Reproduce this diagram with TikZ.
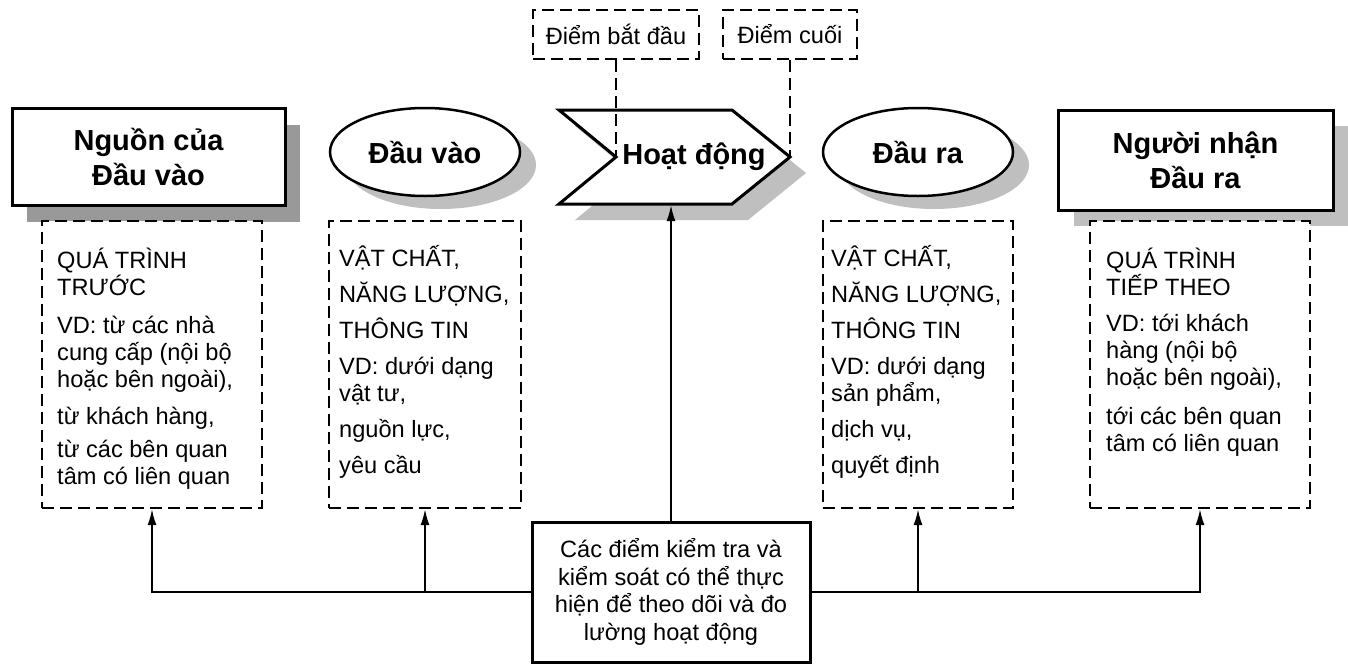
\documentclass[tikz,border=0pt]{standalone}
\usepackage{fontspec}
\setmainfont{Liberation Sans}
\usetikzlibrary{arrows.meta,shapes.geometric,shadows}
\newcommand\tstrut{\rule{0pt}{24pt}}
\begin{document}
\begin{tikzpicture}[x=1pt,y=-1pt,
  titlefont/.style={font=\bfseries\fontsize{29}{35}\selectfont},
  bodyfont/.style={font=\fontsize{23.6}{27}\selectfont},
  darkshadow/.style={drop shadow={shadow xshift=15pt,shadow yshift=-17pt,fill=black!40,opacity=1}},
  lightshadow/.style={drop shadow={shadow xshift=16pt,shadow yshift=-16pt,fill=black!25,opacity=1}},
  ellshadow/.style={drop shadow={shadow xshift=16pt,shadow yshift=-13pt,fill=black!25,opacity=1}},
  solidbox/.style={draw, line width=3pt, fill=white, titlefont, align=center, inner sep=0pt},
  ell/.style={ellipse, draw, line width=2.5pt, fill=white, titlefont, inner sep=0pt, minimum width=190pt, minimum height=88pt, ellshadow},
  dbox/.style={draw, line width=2pt, dash pattern=on 12pt off 6pt, fill=white, inner sep=0pt},
  btext/.style={bodyfont, align=left, anchor=north west, inner sep=0pt},
  dline/.style={line width=2pt, dash pattern=on 12pt off 6pt},
  conn/.style={line width=2pt},
  arr/.style={conn, -{Latex[length=16pt,width=9pt]}},
]
\fill[white] (0,0) rectangle (1348,664);
\useasboundingbox (0,0) rectangle (1348,664);

% top solid boxes and ellipses
\node[solidbox, darkshadow, minimum width=273pt, minimum height=97pt] (src) at (148.5,156.5) {Nguồn của\\Đầu vào};
\node[solidbox, lightshadow, minimum width=275pt, minimum height=100pt] (rcv) at (1195.5,160) {Người nhận\\Đầu ra};
\node[ell] (in) at (425,152) {Đầu vào};
\node[ell] (out) at (918,152) {Đầu ra};

% activity chevron
\draw[line width=3pt, fill=white, line join=miter, lightshadow]
  (559,110) -- (732,110) -- (790,157) -- (732,204) -- (559,204) -- (616,157) -- cycle;
\node[titlefont, inner sep=0pt] (act) at (694,157) {Hoạt động};
\coordinate (notch) at (616,157);
\coordinate (tip) at (790,157);
\coordinate (actS) at (671,205);

% start / end labels
\node[dbox, bodyfont, minimum width=166pt, minimum height=49pt] (start) at (616,34.5) {Điểm bắt đầu};
\node[dbox, bodyfont, minimum width=134pt, minimum height=49pt] (end) at (790,34.5) {Điểm cuối};
\draw[dline] (start.south) -- (notch);
\draw[dline] (end.south) -- (tip);

% dashed boxes
\node[dbox, minimum width=220pt, minimum height=287pt] (d1) at (152,364.5) {};
\node[dbox, minimum width=192pt, minimum height=287pt] (d2) at (425,364.5) {};
\node[dbox, minimum width=190pt, minimum height=287pt] (d4) at (918,364.5) {};
\node[dbox, minimum width=220pt, minimum height=287pt] (d5) at (1200,364.5) {};

\node[btext] (t1) at (57,244) {\tstrut QUÁ TRÌNH\\TRƯỚC\\[11pt]VD: từ các nhà\\cung cấp (nội bộ\\hoặc bên ngoài),\\[10pt]từ khách hàng,\\[6pt]từ các bên quan\\tâm có liên quan};
\node[btext] (t2) at (339,242) {\tstrut VẬT CHẤT,\\[9pt]NĂNG LƯỢNG,\\[9pt]THÔNG TIN\\[9pt]VD: dưới dạng\\vật tư,\\[9pt]nguồn lực,\\[9pt]yêu cầu};
\node[btext] (t4) at (831,242) {\tstrut VẬT CHẤT,\\[9pt]NĂNG LƯỢNG,\\[9pt]THÔNG TIN\\[9pt]VD: dưới dạng\\sản phẩm,\\[9pt]dịch vụ,\\[9pt]quyết định};
\node[btext] (t5) at (1106,244) {\tstrut QUÁ TRÌNH\\TIẾP THEO\\[9pt]VD: tới khách\\hàng (nội bộ\\hoặc bên ngoài),\\[12pt]tới các bên quan\\tâm có liên quan};

% control box
\node[draw, line width=3pt, fill=white, font=\fontsize{23.6}{27.5}\selectfont, align=center, inner sep=0pt,
  minimum width=278pt, minimum height=140pt] (ctrl) at (671,592)
  {Các điểm kiểm tra và\\kiểm soát có thể thực\\hiện để theo dõi và đo\\lường hoạt động};

% connectors
\draw[arr] (ctrl.west) -| (d1.south);
\draw[arr] (ctrl.west) -| (d2.south);
\draw[arr] (ctrl.east) -| (d4.south);
\draw[arr] (ctrl.east) -| (d5.south);
\draw[arr] (ctrl.north) -- (actS);
\end{tikzpicture}
\end{document}
